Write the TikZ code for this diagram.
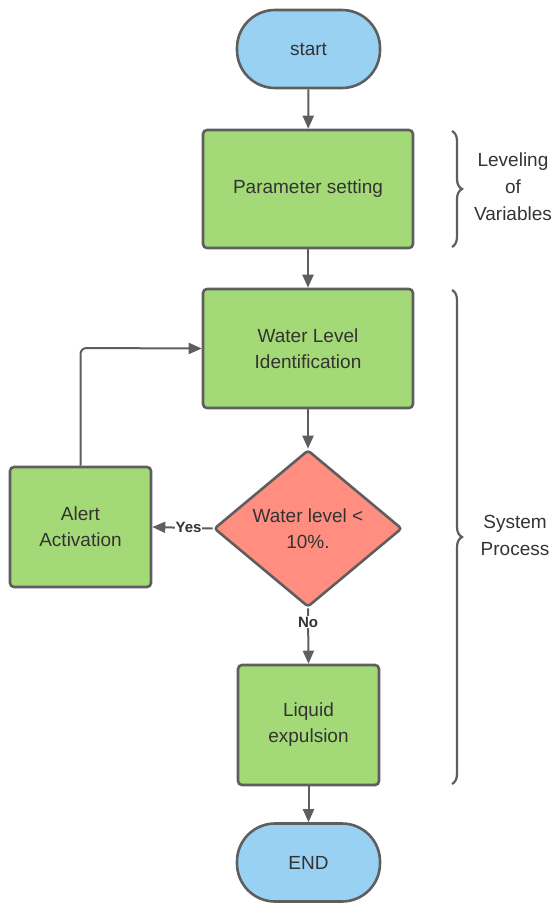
\documentclass[tikz,border=0pt]{standalone}
\usepackage{fontspec}
\setmainfont{Liberation Sans}
\usetikzlibrary{shapes.geometric,arrows.meta,decorations.pathreplacing}
\definecolor{stroke}{HTML}{5E5E5E}
\definecolor{txt}{HTML}{333333}
\definecolor{gfill}{HTML}{A3D977}
\definecolor{bfill}{HTML}{99D1F3}
\definecolor{rfill}{HTML}{FF8E80}
\tikzset{
  base/.style={draw=stroke, line width=2.6pt, text=txt, align=center,
    font=\fontsize{19}{26}\selectfont, inner sep=0pt},
  term/.style={base, fill=bfill, minimum width=143pt, minimum height=78pt, rounded corners=38pt},
  proc/.style={base, fill=gfill, rounded corners=4pt},
  dec/.style={base, fill=rfill, diamond, minimum width=188pt, minimum height=157pt, aspect=1.2, rounded corners=3pt},
  conn/.style={draw=stroke, line width=2pt, -{Triangle[length=13pt,width=11pt]}},
  lab/.style={font=\fontsize{15}{17}\selectfont\bfseries, text=txt, fill=white, inner sep=1pt},
  side/.style={text=txt, align=center, font=\fontsize{19}{27}\selectfont},
  bracestyle/.style={draw=stroke, line width=2.2pt, decorate, decoration={brace, amplitude=10pt}}
}
\begin{document}
\begin{tikzpicture}[x=1pt,y=-1pt]
\useasboundingbox (0,0) rectangle (553,907);
\node[term] (start) at (308.5,49) {start};
\node[proc, minimum width=210pt, minimum height=118pt] (param) at (308,189) {Parameter setting};
\node[proc, minimum width=210pt, minimum height=119pt] (wl) at (308,348.5) {Water Level\\Identification};
\node[dec] (d) at (308,528.5) {Water level <\\10\%.};
\node[proc, minimum width=141pt, minimum height=120pt] (alert) at (80.5,527) {Alert\\Activation};
\node[proc, minimum width=141pt, minimum height=120pt] (liq) at (308.5,725) {Liquid\\expulsion};
\node[term] (end) at (308.5,862.5) {END};
\coordinate (corner) at (80.5,348);
\draw[conn] (start) -- (param);
\draw[conn] (param) -- (wl);
\draw[conn] (wl) -- (d);
\draw[conn] (d.west) -- node[lab, pos=0.4] {Yes} (alert.east);
\draw[conn] (d.south) -- node[lab, pos=0.25] {No} (liq.north);
\draw[conn, rounded corners=6pt] (alert.north) -- (corner) -- (wl.west);
\draw[conn] (liq) -- (end);
\draw[bracestyle] (452,131) -- (452,247) node (b1) [midway] {};
\draw[bracestyle] (452,290) -- (452,784) node (b2) [midway] {};
\node[side] (lv) at (513,187) {Leveling\\of\\Variables};
\node[side] (sp) at (515,535) {System\\Process};
\end{tikzpicture}
\end{document}
